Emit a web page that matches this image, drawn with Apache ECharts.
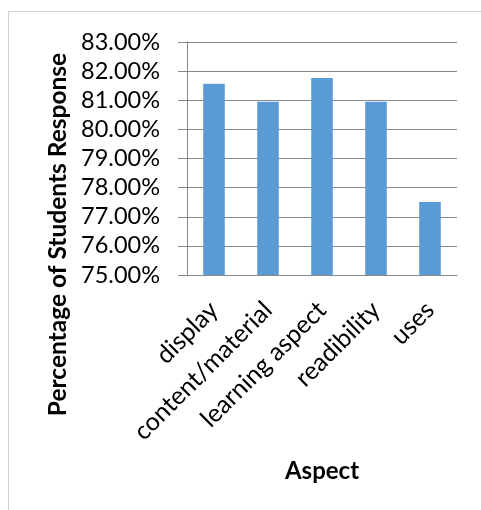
<!DOCTYPE html>
<html>
<head>
<meta charset="utf-8">
<script src="https://cdn.jsdelivr.net/npm/echarts@6/dist/echarts.min.js"></script>
<style>
  html, body { margin: 0; padding: 0; background: #fff; }
  #chart { width: 481px; height: 510px; }
</style>
</head>
<body>
<div id="chart"></div>
<script>
const categories = ['display', 'content/material', 'learning aspect', 'readibility', 'uses']
const responses = [81.57, 80.95, 81.76, 80.95, 77.51]
const yMin = 75
const yMax = 83
const yStep = 1

const chart = echarts.init(document.getElementById('chart'))

chart.setOption({
  animation: false,
  textStyle: { fontFamily: 'Lato' },
  graphic: [{
    type: 'rect',
    shape: { x: 8.5, y: 11.5, width: 490, height: 520 },
    style: { fill: 'none', stroke: '#d0d0d0', lineWidth: 1 },
    silent: true
  }],
  grid: { left: 187, right: 24, top: 42, bottom: 235, outerBoundsMode: 'none' },
  xAxis: {
    type: 'category',
    data: categories,
    name: 'Aspect',
    nameLocation: 'middle',
    nameGap: 184,
    nameTextStyle: { fontSize: 24, fontWeight: 'bold', color: '#000', fontFamily: 'Lato' },
    axisLine: { lineStyle: { color: '#888', width: 1 } },
    axisTick: { length: 6, lineStyle: { color: '#888' } },
    axisLabel: { rotate: 45, fontSize: 25, color: '#000', margin: 31, interval: 0 }
  },
  yAxis: {
    type: 'value',
    min: yMin,
    max: yMax,
    interval: yStep,
    name: 'Percentage of Students Response',
    nameLocation: 'middle',
    nameGap: 116,
    nameTextStyle: {
      fontSize: 24.5,
      fontWeight: 'bold',
      color: '#000',
      fontFamily: 'Lato',
      padding: [0, 152, 0, 0]
    },
    axisLine: { show: true, lineStyle: { color: '#888', width: 1 } },
    axisTick: { show: true, length: 9, lineStyle: { color: '#888' } },
    splitLine: { lineStyle: { color: '#888', width: 1 } },
    axisLabel: {
      fontSize: 23.5,
      color: '#000',
      margin: 27,
      formatter: v => v.toFixed(2) + '%'
    }
  },
  series: [{
    type: 'bar',
    data: responses,
    barWidth: '40%',
    itemStyle: { color: '#5b9bd5' }
  }]
})
</script>
</body>
</html>
